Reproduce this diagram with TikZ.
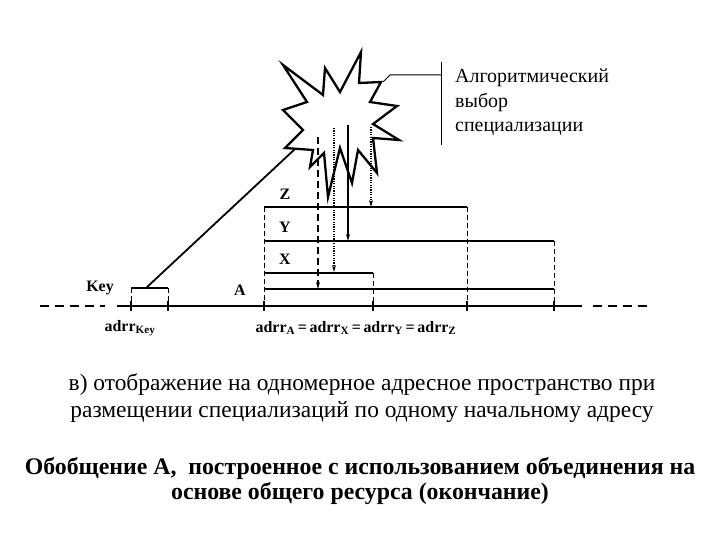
\documentclass[tikz,border=0pt]{standalone}
\usepackage{fontspec}
\setmainfont{Liberation Serif}
\usetikzlibrary{arrows.meta}
\begin{document}
\begin{tikzpicture}[x=1bp,y=-1bp,
  axisline/.style={line width=2bp},
  barline/.style={line width=2bp},
  tickmark/.style={line width=2.2bp},
  thindash/.style={line width=0.8bp, dash pattern=on 5bp off 3bp},
  longdash/.style={line width=1.6bp, dash pattern=on 7bp off 4bp},
  dotline/.style={line width=1.4bp, dash pattern=on 1.2bp off 1.2bp},
  arrowtip/.style={-{Stealth[length=7bp,width=4bp]}},
  lbl/.style={font=\bfseries\fontsize{16}{18}\selectfont, inner sep=0pt},
  callout/.style={font=\fontsize{20}{24.5}\selectfont, inner sep=0pt, align=left},
  caption/.style={font=\fontsize{23.5}{27}\selectfont, inner sep=0pt, align=center},
  boldcaption/.style={font=\bfseries\fontsize{23.9}{26}\selectfont, inner sep=0pt, align=center}]
\useasboundingbox (0,0) rectangle (720,540);

% axis
\coordinate (axL0) at (40,306);
\coordinate (axL1) at (105,306);
\coordinate (axS0) at (117,306);
\coordinate (axS1) at (582,306);
\coordinate (axR0) at (593,306);
\coordinate (axR1) at (650,306);
\draw[axisline, dash pattern=on 9bp off 6bp] (axL0) -- (axL1);
\draw[axisline] (axS0) -- (axS1);
\draw[axisline, dash pattern=on 9bp off 6bp] (axR0) -- (axR1);
\foreach \x/\n in {131/k0,168/k1,264/a0,373/x1,467/z1,554/y1}{
  \coordinate (t\n) at (\x,306);
  \draw[tickmark] (\x,301) -- (\x,311);
}

% Key box
\coordinate (key0) at (131,288);
\coordinate (key1) at (168,288);
\coordinate (keyS) at (146,288);
\draw[barline] (key0) -- (key1);
\draw[thindash] (key0) -- (tk0);
\draw[thindash] (key1) -- (tk1);

% diagonal to star
\coordinate (starL) at (310,135);
\draw[line width=1.8bp] (keyS) -- (starL);

% A region bars
\coordinate (zL) at (264,207); \coordinate (zR) at (467,207);
\coordinate (yL) at (264,241); \coordinate (yR) at (554,241);
\coordinate (xL) at (264,273); \coordinate (xR) at (373,273);
\coordinate (aL) at (264,289); \coordinate (aR) at (554,289);
\draw[barline] (zL) -- (zR);
\draw[barline] (yL) -- (yR);
\draw[barline] (xL) -- (xR);
\draw[barline] (aL) -- (aR);
\draw[thindash] (zL) -- (ta0);
\draw[thindash] (zR) -- (tz1);
\draw[thindash] (yR) -- (ty1);
\draw[thindash] (xR) -- (tx1);

% star
\draw[line width=2.3bp, fill=white, line join=miter]
 (283,65) -- (323,95) -- (325,68) -- (340,92) -- (361,52) -- (359,83) --
 (381,82) -- (370,102) -- (397,106) -- (373,124) -- (399,140) -- (373,138) --
 (377,173) -- (358,150) -- (352,183) -- (340,148) -- (328,197) -- (324,153) --
 (310,167) -- (313,150) -- (285,148) -- (303,130) -- (283,110) -- (307,102) -- cycle;

% arrows from star
\coordinate (s1) at (318,137); \coordinate (e1) at (318,289);
\coordinate (s2) at (334,128); \coordinate (e2) at (334,272);
\coordinate (s3) at (348,125); \coordinate (e3) at (348,241);
\coordinate (s4) at (371,127); \coordinate (e4) at (371,207);
\draw[longdash, arrowtip] (s1) -- (e1);
\draw[dotline, arrowtip] (s2) -- (e2);
\draw[line width=1.6bp, arrowtip] (s3) -- (e3);
\draw[dotline, arrowtip] (s4) -- (e4);

% callout
\coordinate (c0) at (383,82);
\coordinate (c1) at (390,75);
\coordinate (c2) at (441,75);
\coordinate (cb0) at (441,62);
\coordinate (cb1) at (441,145);
\draw[line width=1bp] (c0) -- (c1) -- (c2);
\draw[line width=1bp] (cb0) -- (cb1);
\node[callout, anchor=north west] (algo) at (455,69) {Алгоритмический\\выбор\\специализации};

% labels
\node[lbl] (lkey) at (100,288) {Key};
\node[lbl] (la) at (240,290) {A};
\node[lbl] (lx) at (285,259) {X};
\node[lbl] (ly) at (285,227) {Y};
\node[lbl] (lz) at (285,194) {Z};
\node[lbl] (adk) at (130,328) {adrr\textsubscript{Key}};
\node[lbl] (ada) at (356,328) {adrr\textsubscript{A}\,=\,adrr\textsubscript{X}\,=\,adrr\textsubscript{Y}\,=\,adrr\textsubscript{Z}};

% captions
\node[caption] (cap) at (362,398) {в) отображение на одномерное адресное пространство при\\размещении специализаций по одному начальному адресу};
\node[boldcaption] (bcap) at (360,481) {Обобщение А,\ \ построенное с использованием объединения на\\основе общего ресурса (окончание)};
\end{tikzpicture}
\end{document}
